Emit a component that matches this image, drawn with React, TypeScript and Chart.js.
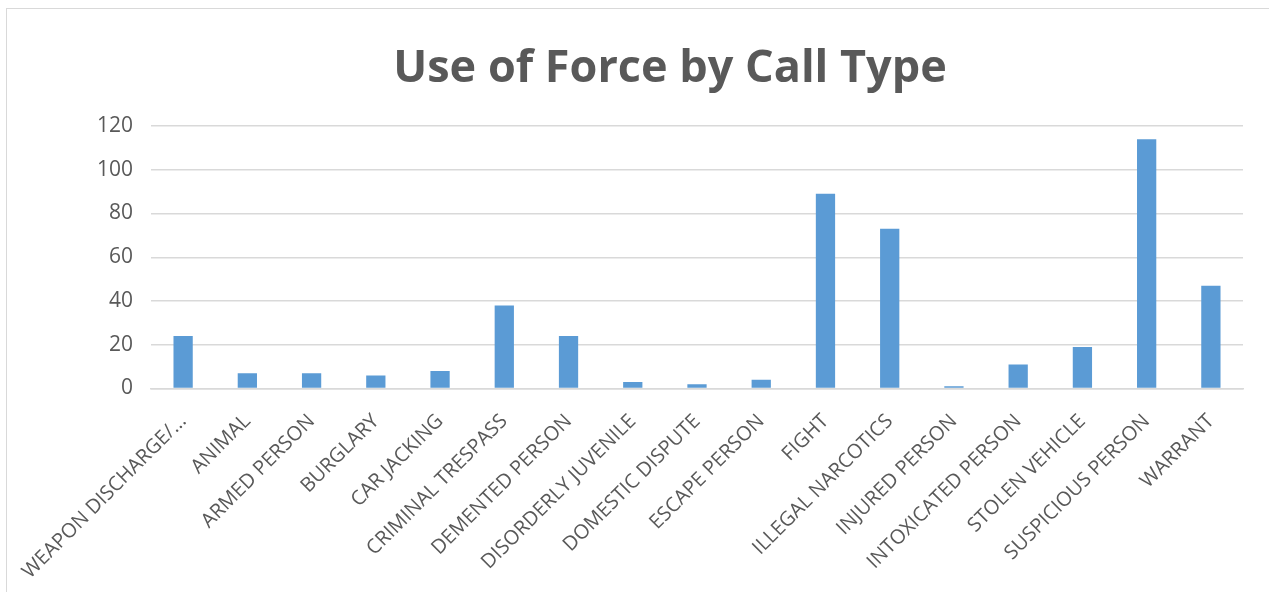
import React, { useEffect, useRef } from "react";
import { Chart, registerables } from "chart.js";

Chart.register(...registerables);

const TITLE = "Use of Force by Call Type";

const callTypes = [
  "WEAPON DISCHARGE/...",
  "ANIMAL",
  "ARMED PERSON",
  "BURGLARY",
  "CAR JACKING",
  "CRIMINAL TRESPASS",
  "DEMENTED PERSON",
  "DISORDERLY JUVENILE",
  "DOMESTIC DISPUTE",
  "ESCAPE PERSON",
  "FIGHT",
  "ILLEGAL NARCOTICS",
  "INJURED PERSON",
  "INTOXICATED PERSON",
  "STOLEN VEHICLE",
  "SUSPICIOUS PERSON",
  "WARRANT",
];

const incidents = [24, 7, 7, 6, 8, 38, 24, 3, 2, 4, 89, 73, 1, 11, 19, 114, 47];

const yTicks = [0, 20, 40, 60, 80, 100, 120];

const TEXT = "#595959";
const GRID = "#d9d9d9";
const BAR = "#5b9bd5";

// Draws the heading centred over the whole chart box.
const headingPlugin = {
  id: "heading",
  afterDraw(chart: any) {
    const ctx = chart.ctx;
    ctx.save();
    ctx.font = "bold 45px 'Open Sans', sans-serif";
    ctx.fillStyle = TEXT;
    ctx.textAlign = "center";
    ctx.textBaseline = "alphabetic";
    ctx.fillText(TITLE, 670, 82);
    ctx.restore();
  },
};

export default function App() {
  const canvasRef = useRef<HTMLCanvasElement | null>(null);

  useEffect(() => {
    document.body.style.margin = "0";
    const canvas = canvasRef.current;
    if (!canvas) return;
    const chart = new Chart(canvas, {
      type: "bar",
      data: {
        labels: callTypes,
        datasets: [
          {
            label: "Use of Force",
            data: incidents,
            backgroundColor: BAR,
            borderWidth: 0,
            barPercentage: 0.3,
            categoryPercentage: 1,
          },
        ],
      },
      options: {
        responsive: false,
        animation: false,
        layout: { padding: { top: 126, left: 97, right: 26, bottom: 0 } },
        plugins: {
          legend: { display: false },
          title: { display: false },
          tooltip: { enabled: false },
        },
        scales: {
          x: {
            grid: { display: false, drawTicks: false },
            border: { display: true, color: GRID, width: 1.5 },
            ticks: {
              color: TEXT,
              font: { family: "'Open Sans', sans-serif", size: 20 },
              minRotation: 45,
              maxRotation: 45,
              autoSkip: false,
              padding: 21,
            },
            afterFit(scale: any) {
              scale.height = 592 - 388.5;
            },
          },
          y: {
            min: 0,
            max: 120,
            afterBuildTicks(scale: any) {
              scale.ticks = yTicks.map((v) => ({ value: v }));
            },
            grid: { color: GRID, lineWidth: 1.5, drawTicks: false },
            border: { display: false },
            ticks: {
              color: TEXT,
              font: { family: "'Open Sans', sans-serif", size: 21 },
              padding: 18,
            },
            afterFit(scale: any) {
              scale.width = 54;
            },
          },
        },
      },
      plugins: [headingPlugin],
    });
    return () => chart.destroy();
  }, []);

  return (
    <div style={{ position: "relative", width: 1269, height: 592, overflow: "hidden", background: "#fff" }}>
      <canvas ref={canvasRef} width={1269} height={592} style={{ display: "block" }} />
      <div
        style={{
          position: "absolute",
          left: 6,
          top: 8,
          width: 1400,
          height: 700,
          border: `1.5px solid ${GRID}`,
          pointerEvents: "none",
        }}
      />
    </div>
  );
}
